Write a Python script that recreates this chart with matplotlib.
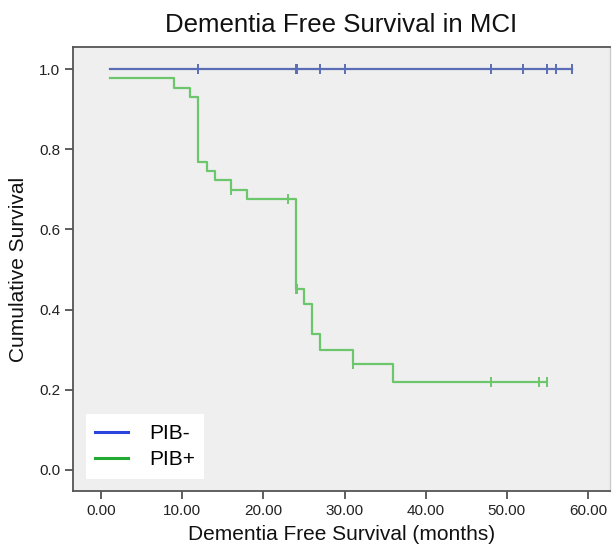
import matplotlib
matplotlib.use("Agg")
import matplotlib.pyplot as plt
from matplotlib.lines import Line2D
import numpy as np

plt.rcParams['font.family'] = ['Liberation Sans', 'DejaVu Sans']

# Data
neg_times = [1.1, 58]
neg_surv = [1.0, 1.0]
neg_censor = [12, 24, 24.15, 27, 30, 48, 52, 55, 56, 58]

pos_times = [1.1, 9, 11, 12, 13, 14, 16, 18, 24, 25, 26, 27, 31, 36, 55]
pos_surv = [0.977, 0.953, 0.930, 0.768, 0.745, 0.722, 0.698, 0.675, 0.451,
            0.413, 0.338, 0.300, 0.264, 0.219, 0.219]
pos_censor = [16, 23, 24, 24.15, 31, 48, 54, 55]

x_ticks = [0, 10, 20, 30, 40, 50, 60]
y_ticks = [0.0, 0.2, 0.4, 0.6, 0.8, 1.0]
labels = ["PIB-", "PIB+"]

def level_at(times, surv, t):
    idx = np.searchsorted(times, t, side='right') - 1
    return surv[max(idx, 0)]

W, H = 614, 548
fig = plt.figure(figsize=(W / 100, H / 100), dpi=100)
ax = fig.add_axes([73 / W, 57 / H, (610 - 73) / W, (491 - 47) / H])
ax.set_facecolor('#efefef')

blue_line = '#5b6db6'
green_line = '#6cc76c'

ax.step(neg_times, neg_surv, where='post', color=blue_line, lw=1.6)
ax.step(pos_times, pos_surv, where='post', color=green_line, lw=1.6)

ax.plot(neg_censor, [level_at(neg_times, neg_surv, t) for t in neg_censor],
        linestyle='none', marker='|', markersize=7, markeredgewidth=1.4, color=blue_line)
ax.plot(pos_censor, [level_at(pos_times, pos_surv, t) for t in pos_censor],
        linestyle='none', marker='|', markersize=7, markeredgewidth=1.4, color=green_line)

ax.set_xlim(-3.45, 62.7)
ax.set_ylim(-0.0524, 1.0549)
ax.set_xticks(x_ticks)
ax.set_xticklabels([f"{v:.2f}" for v in x_ticks])
ax.set_yticks(y_ticks)
ax.set_yticklabels([f"{v:.1f}" for v in y_ticks])
ax.tick_params(axis='both', direction='out', length=5.8, width=1.1, color='#333333',
               labelsize=11, labelcolor='#222222', pad=3.5)

for side in ['top', 'left', 'bottom']:
    ax.spines[side].set_color('#555555')
    ax.spines[side].set_linewidth(1.3)
ax.spines['right'].set_color('#cccccc')
ax.spines['right'].set_linewidth(1.0)

ax.set_title("Dementia Free Survival in MCI", fontsize=18.6, pad=11, color='#111111')
ax.set_xlabel("Dementia Free Survival (months)", fontsize=15, labelpad=5, color='#111111')
ax.set_ylabel("Cumulative Survival", fontsize=15, labelpad=8, color='#111111')

handles = [Line2D([0], [0], color='#2a44dd', lw=2.2),
           Line2D([0], [0], color='#22aa33', lw=2.2)]
leg = ax.legend(handles, labels, loc='lower left', fontsize=15, frameon=True,
                fancybox=False, framealpha=1.0, edgecolor='none', facecolor='white',
                handlelength=1.6, handletextpad=1.0, labelspacing=0.35,
                borderaxespad=0.6, borderpad=0.45)

fig.savefig("out.png", dpi=100)
